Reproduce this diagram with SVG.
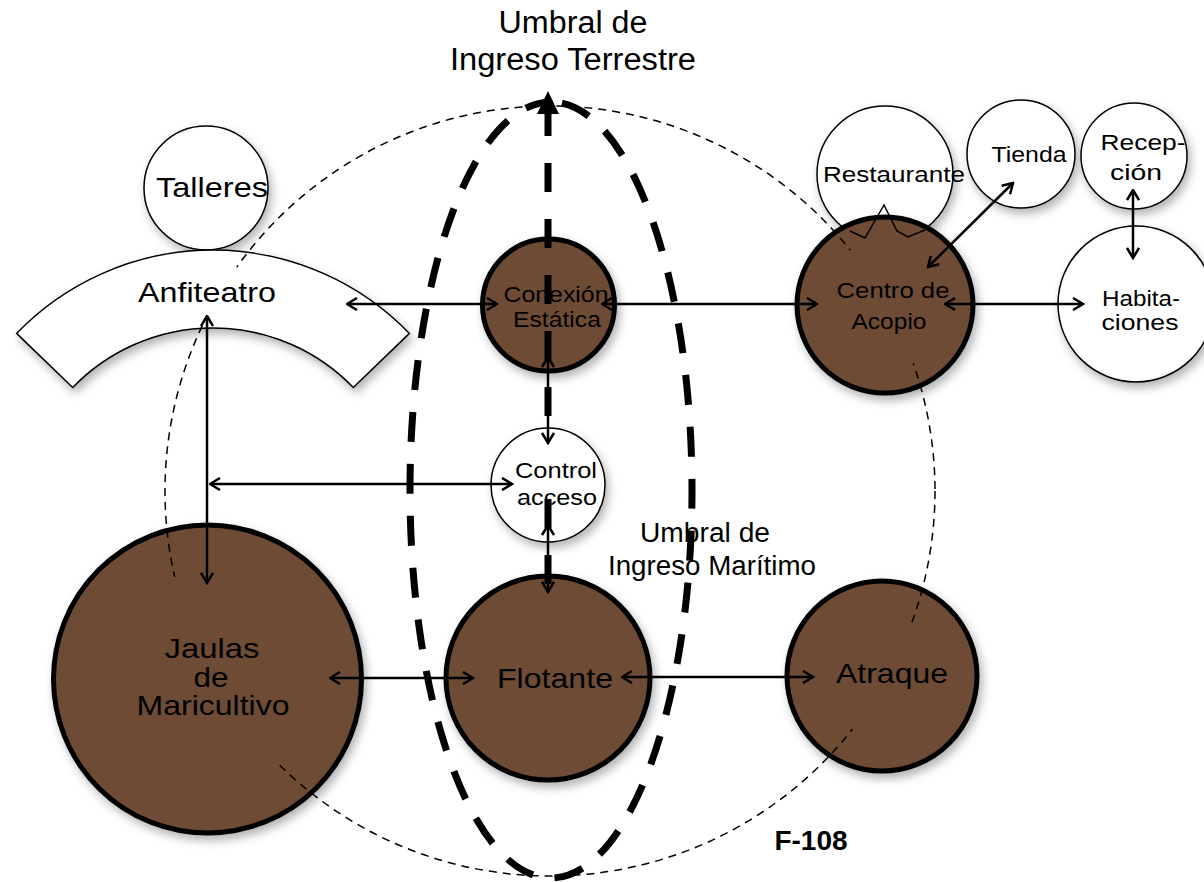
<svg xmlns="http://www.w3.org/2000/svg" width="1204" height="882" viewBox="0 0 1204 882">
<style>
text{font-family:"Liberation Sans",Arial,sans-serif;fill:#000;text-anchor:middle}
.s{font-size:22px}
.m{font-size:28px}
.lbl{font-size:27px}
.big{font-size:31px}
.w{fill:#fff;stroke:#000;stroke-width:1.5}
.b{fill:#6E4B35;stroke:#000;stroke-width:5}
.c{fill:none;stroke:#000;stroke-width:2.5;marker-start:url(#ah);marker-end:url(#ah)}
.td{fill:none;stroke:#000;stroke-width:7;stroke-dasharray:29 27}
</style>
<defs>
<filter id="sh" x="-30%" y="-30%" width="160%" height="160%">
<feDropShadow dx="3" dy="5" stdDeviation="5" flood-color="#000" flood-opacity="0.3"/>
</filter>
<marker id="ah" viewBox="0 0 13 14" refX="11.5" refY="7" markerWidth="13" markerHeight="14" markerUnits="userSpaceOnUse" orient="auto-start-reverse">
<path d="M1.5,1 L11.5,7 L1.5,13" fill="none" stroke="#000" stroke-width="2.5"/>
</marker>
<mask id="cm" maskUnits="userSpaceOnUse" x="0" y="0" width="1204" height="882">
<rect x="0" y="0" width="1204" height="882" fill="#fff"/>
<circle cx="207" cy="679" r="107" fill="#000"/>
<circle cx="882" cy="676" r="61" fill="#000"/>
<circle cx="885" cy="305" r="65" fill="#000"/>
<circle cx="213" cy="290" r="33" fill="#000"/>
</mask>
</defs>
<rect x="0" y="0" width="1204" height="882" fill="#fff"/>

<g id="talleres"><circle class="w" cx="206" cy="188" r="62" filter="url(#sh)"/><text class="m" x="212" y="197" textLength="112" lengthAdjust="spacingAndGlyphs">Talleres</text></g>
<g id="anfiteatro"><path class="w" filter="url(#sh)" d="M16.6,333.4 A273,273 0 0 1 409.4,333.4 L353.3,387.5 A195,195 0 0 0 72.7,387.5 Z"/><text class="m" x="207" y="302" textLength="138" lengthAdjust="spacingAndGlyphs">Anfiteatro</text></g>
<g id="restaurante"><circle class="w" cx="885" cy="174" r="68" filter="url(#sh)"/></g>
<g id="tienda"><circle class="w" cx="1021" cy="154" r="54" filter="url(#sh)"/><text class="s" x="1029" y="162" textLength="75" lengthAdjust="spacingAndGlyphs">Tienda</text></g>
<g id="recepcion"><circle class="w" cx="1134" cy="156" r="53" filter="url(#sh)"/><text class="s" x="1143" y="150" textLength="85" lengthAdjust="spacingAndGlyphs">Recep-</text><text class="s" x="1136" y="180" textLength="52" lengthAdjust="spacingAndGlyphs">ción</text></g>
<g id="habitaciones"><circle class="w" cx="1136" cy="304" r="78" filter="url(#sh)"/><text class="s" x="1141" y="306" textLength="78" lengthAdjust="spacingAndGlyphs">Habita-</text><text class="s" x="1140" y="330" textLength="77" lengthAdjust="spacingAndGlyphs">ciones</text></g>
<g id="centro"><circle class="b" cx="885" cy="305" r="88" filter="url(#sh)"/><polyline points="850,231 865,238 884,205 897,231 908,237 925,230" fill="none" stroke="#000" stroke-width="1.5"/><text class="s" x="893" y="298" textLength="113" lengthAdjust="spacingAndGlyphs">Centro de</text><text class="s" x="889" y="329" textLength="75" lengthAdjust="spacingAndGlyphs">Acopio</text></g>
<g id="restaurante-label"><text class="s" x="894" y="182" textLength="142" lengthAdjust="spacingAndGlyphs">Restaurante</text></g>
<g id="conexion"><circle class="b" cx="548.5" cy="305" r="66" filter="url(#sh)"/><text class="s" x="556" y="302" textLength="105" lengthAdjust="spacingAndGlyphs">Conexión</text><text class="s" x="557" y="327" textLength="88" lengthAdjust="spacingAndGlyphs">Estática</text></g>
<g id="control"><circle class="w" cx="548" cy="485" r="57" filter="url(#sh)"/><text class="s" x="556" y="478" textLength="82" lengthAdjust="spacingAndGlyphs">Control</text><text class="s" x="557" y="505" textLength="80" lengthAdjust="spacingAndGlyphs">acceso</text></g>
<g id="jaulas"><circle class="b" cx="207.5" cy="679" r="154" filter="url(#sh)"/><text class="m" x="212" y="658" textLength="95" lengthAdjust="spacingAndGlyphs">Jaulas</text><text class="m" x="211" y="687" textLength="35" lengthAdjust="spacingAndGlyphs">de</text><text class="m" x="213" y="715" textLength="153" lengthAdjust="spacingAndGlyphs">Maricultivo</text></g>
<g id="flotante"><circle class="b" cx="548" cy="678" r="102" filter="url(#sh)"/><text class="m" x="555" y="688" textLength="116" lengthAdjust="spacingAndGlyphs">Flotante</text></g>
<g id="atraque"><circle class="b" cx="882" cy="676" r="95" filter="url(#sh)"/><text class="m" x="892" y="683" textLength="112" lengthAdjust="spacingAndGlyphs">Atraque</text></g>

<g id="limite"><circle cx="550" cy="491" r="385" fill="none" stroke="#000" stroke-width="1.5" stroke-dasharray="8 6" mask="url(#cm)"/></g>

<g id="umbrales">
<path d="M551,102 A141,388 0 1 1 551,878 A141,388 0 1 1 551,102" fill="none" stroke="#000" stroke-width="7" stroke-dasharray="30 22" stroke-dashoffset="41"/>
<path class="td" d="M548,584 L548,499"/>
<path class="td" d="M548,416 L548,110"/>
<polygon points="548,91 537,114 559,114" fill="#000"/>
<text class="big" x="573" y="33" textLength="149" lengthAdjust="spacingAndGlyphs">Umbral de</text>
<text class="big" x="573" y="70" textLength="246" lengthAdjust="spacingAndGlyphs">Ingreso Terrestre</text>
<text class="lbl" x="705" y="542" textLength="130" lengthAdjust="spacingAndGlyphs">Umbral de</text>
<text class="lbl" x="712" y="575" textLength="208" lengthAdjust="spacingAndGlyphs">Ingreso Marítimo</text>
</g>

<g id="connectors">
<line class="c" x1="347" y1="304" x2="497" y2="304"/>
<line class="c" x1="602" y1="304" x2="817" y2="304"/>
<line class="c" x1="945" y1="304" x2="1083" y2="304"/>
<line class="c" x1="928" y1="267" x2="1013" y2="183"/>
<line class="c" x1="1133" y1="190" x2="1133" y2="258"/>
<line class="c" x1="207" y1="316" x2="207" y2="583"/>
<line class="c" x1="210" y1="484" x2="512" y2="484"/>
<line class="c" x1="548" y1="357" x2="548" y2="443"/>
<line class="c" x1="548" y1="525" x2="548" y2="592"/>
<line class="c" x1="330" y1="678" x2="473" y2="678"/>
<line class="c" x1="622" y1="677" x2="813" y2="677"/>
</g>

<text x="811" y="850" style="font-size:28px;font-weight:bold">F-108</text>
</svg>
